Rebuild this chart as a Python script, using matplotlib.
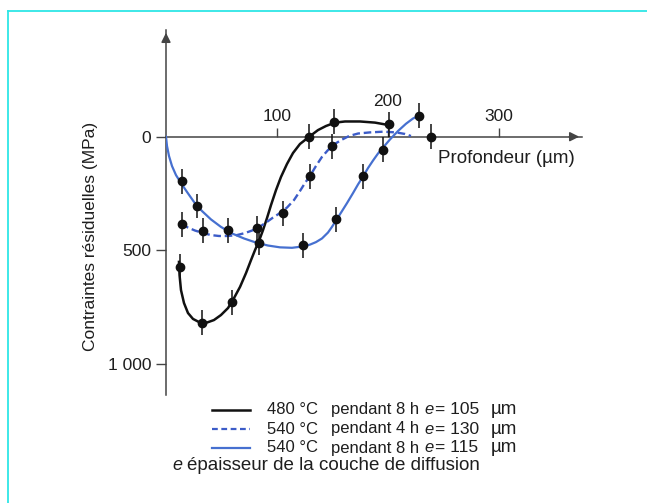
import matplotlib
matplotlib.use("Agg")
import matplotlib.pyplot as plt
from matplotlib.lines import Line2D

plt.rcParams['font.family'] = ['Liberation Sans', 'DejaVu Sans']

W, H = 647, 503

# ---------------- data (depth in um, residual stress in MPa, compressive positive downwards)
# 480 C pendant 8 h
black_pts_x = [12.6, 32.2, 59.7, 84.1, 129.1, 151.6, 200.9]
black_pts_y = [572, 819, 728, 467, 0, -66, -55]
black_curve_x = [11.7, 12.2, 13.5, 16.2, 19.8, 24.3, 30.6, 36.9, 43.2, 49.5, 55.9, 61.3,
                 66.7, 72.1, 76.6, 80.2, 83.8, 87.4, 91.0, 94.6, 99.1, 103.6, 109.0,
                 114.4, 120.7, 128.8, 136.9, 144.1, 152.3, 161.3, 174.8, 188.3, 200.9]
black_curve_y = [551, 609, 675, 732, 776, 802, 818, 818, 807, 785, 754, 710,
                 661, 600, 543, 499, 459, 411, 358, 301, 235, 177, 120,
                 72, 32, 1, -29, -47, -62, -67, -67, -62, -51]

# 540 C pendant 4 h
dash_pts_x = [14.1, 33.1, 56.1, 81.7, 105.1, 129.7, 149.3, 238.7]
dash_pts_y = [385, 415, 411, 403, 337, 173, 41, 0]
dash_curve_x = [14.1, 19.8, 26.1, 33.3, 40.5, 47.7, 55.9, 64.0, 71.2, 77.5, 83.8, 90.1,
                96.4, 102.7, 109.0, 115.3, 120.7, 125.2, 129.7, 135.1, 140.5, 145.9,
                151.4, 157.7, 164.9, 173.0, 183.8, 195.5, 207.2, 215.3, 220.7]
dash_curve_y = [384, 400, 413, 424, 433, 437, 437, 433, 424, 413, 398, 378,
                356, 336, 312, 279, 239, 204, 173, 129, 89, 59,
                34, 15, -3, -14, -19, -22, -19, -12, -3]

# 540 C pendant 8 h
blue_pts_x = [14.1, 27.7, 123.7, 153.2, 177.7, 195.8, 228.2]
blue_pts_y = [195, 305, 477, 364, 173, 58, -92]
blue_curve_x = [0, 0.9, 2.7, 5.4, 9.0, 13.5, 18.9, 25.2, 32.4, 40.5, 49.5, 59.5, 70.3,
                81.1, 91.9, 102.7, 113.5, 123.4, 129.7, 135.1, 140.5, 145.9, 149.5,
                153.2, 157.7, 163.1, 168.5, 173.0, 177.5, 182.0, 186.5, 191.0, 195.5,
                201.8, 209.0, 216.2, 222.5, 227.9]
blue_curve_y = [0, 41, 85, 129, 169, 204, 243, 287, 327, 364, 397, 426, 448,
                466, 479, 487, 489, 483, 475, 464, 448, 422, 397,
                369, 334, 292, 248, 210, 175, 138, 105, 74, 48,
                12, -25, -57, -80, -93]

err = 55
x_ticks = [100, 200, 300]
x_tick_labels = ['100', '200', '300']
y_ticks = [0, 500, 1000]
y_tick_labels = ['0', '500', '1 000']

legend_temps = ['480 °C', '540 °C', '540 °C']
legend_times = ['pendant 8 h', 'pendant 4 h', 'pendant 8 h']
legend_e = ['= 105', '= 130', '= 115']

# ---------------- layout helpers
def fx(px):
    return px / W

def fy(py):
    return 1 - py / H

BLACK = '#111111'
BLUE = '#4670d0'
BLUE_D = '#3c5cc8'
AXC = '#444444'
TXT = '#1e1e1e'

fig = plt.figure(figsize=(W / 100, H / 100), dpi=100)
fig.patch.set_facecolor('white')

# cyan frame (top and left)
fig.add_artist(Line2D([fx(8), 1.0], [fy(10.5), fy(10.5)], color='#2ee6e6', lw=1.3))
fig.add_artist(Line2D([fx(8), fx(8)], [fy(10.5), 0.0], color='#2ee6e6', lw=1.3))

x0, x1 = 166, 582
y0, y1 = 30, 395
ax = fig.add_axes([fx(x0), fy(y1), (x1 - x0) / W, (y1 - y0) / H])
ax.patch.set_alpha(0)
kx = 1.11
ky = 0.2272
ax.set_xlim(0, (x1 - x0) / kx)
ax.set_ylim((y1 - 136.7) / ky, (y0 - 136.7) / ky)

for s in ['top', 'right']:
    ax.spines[s].set_visible(False)
ax.spines['left'].set_color(AXC)
ax.spines['left'].set_linewidth(1.1)
ax.spines['bottom'].set_position(('data', 0))
ax.spines['bottom'].set_color(AXC)
ax.spines['bottom'].set_linewidth(1.1)

ax.set_xticks(x_ticks)
ax.set_xticklabels([])
ax.tick_params(axis='x', direction='in', length=6.5, width=1.0, color=AXC)
ax.set_yticks(y_ticks)
ax.set_yticklabels(y_tick_labels, fontsize=12.5, color=TXT)
ax.tick_params(axis='y', direction='out', length=7.5, width=1.0, color=AXC, pad=3)

# arrows
xmax = (x1 - x0) / kx
ytop = (y0 - 136.7) / ky
ax.annotate('', xy=(xmax, 0), xytext=(xmax - 14, 0),
            arrowprops=dict(arrowstyle='-|>', color=AXC, lw=1.1, mutation_scale=14),
            annotation_clip=False)
ax.annotate('', xy=(0, ytop), xytext=(0, ytop + 60),
            arrowprops=dict(arrowstyle='-|>', color=AXC, lw=1.1, mutation_scale=14),
            annotation_clip=False)

# x tick labels (manual, 200 raised)
lab_y = [-91, -157, -91]
for xt, lt, ly in zip(x_ticks, x_tick_labels, lab_y):
    ax.text(xt, ly, lt, ha='center', va='center', fontsize=12.5, color=TXT)

# curves
ax.plot(black_curve_x, black_curve_y, color=BLACK, lw=1.8, solid_joinstyle='round', zorder=3)
ax.plot(dash_curve_x, dash_curve_y, color=BLUE_D, lw=1.7, dashes=(3.2, 1.6), zorder=3)
ax.plot(blue_curve_x, blue_curve_y, color=BLUE, lw=1.6, solid_joinstyle='round', zorder=3)

# points with error bars
for px_, py_ in [(black_pts_x, black_pts_y), (dash_pts_x, dash_pts_y), (blue_pts_x, blue_pts_y)]:
    ax.errorbar(px_, py_, yerr=err, fmt='o', color=BLACK, ms=6, elinewidth=1.1,
                capsize=0, zorder=5, clip_on=False)

# axis titles
fig.text(fx(438), fy(159), 'Profondeur (µm)', ha='left', va='center', fontsize=13.5, color=TXT)
fig.text(fx(90), fy(236.5), 'Contraintes résiduelles (MPa)', ha='center', va='center',
         rotation=90, fontsize=12.5, color=TXT)

# legend
rows_y = [409.5, 429, 448]
styles = [dict(color=BLACK, lw=1.8), dict(color=BLUE_D, lw=1.6, dashes=(2.6, 1.6)),
          dict(color=BLUE, lw=1.6)]
for ry, st, tmp, tim, ee in zip(rows_y, styles, legend_temps, legend_times, legend_e):
    fig.add_artist(Line2D([fx(212), fx(250)], [fy(ry), fy(ry)], **st))
    fig.text(fx(267), fy(ry), tmp, ha='left', va='center', fontsize=12, color=TXT)
    fig.text(fx(331), fy(ry), tim, ha='left', va='center', fontsize=12, color=TXT)
    fig.text(fx(424), fy(ry), 'e', ha='left', va='center', fontsize=12, style='italic', color=TXT)
    fig.text(fx(435), fy(ry), ee, ha='left', va='center', fontsize=12.5, color=TXT)
    fig.text(fx(491), fy(ry), 'µm', ha='left', va='center', fontsize=13.5, color=TXT)

fig.text(fx(172), fy(466), 'e', ha='left', va='center', fontsize=13, style='italic', color=TXT)
fig.text(fx(187), fy(466), 'épaisseur de la couche de diffusion', ha='left', va='center',
         fontsize=13.5, color=TXT)

fig.savefig('out.png', dpi=100)
